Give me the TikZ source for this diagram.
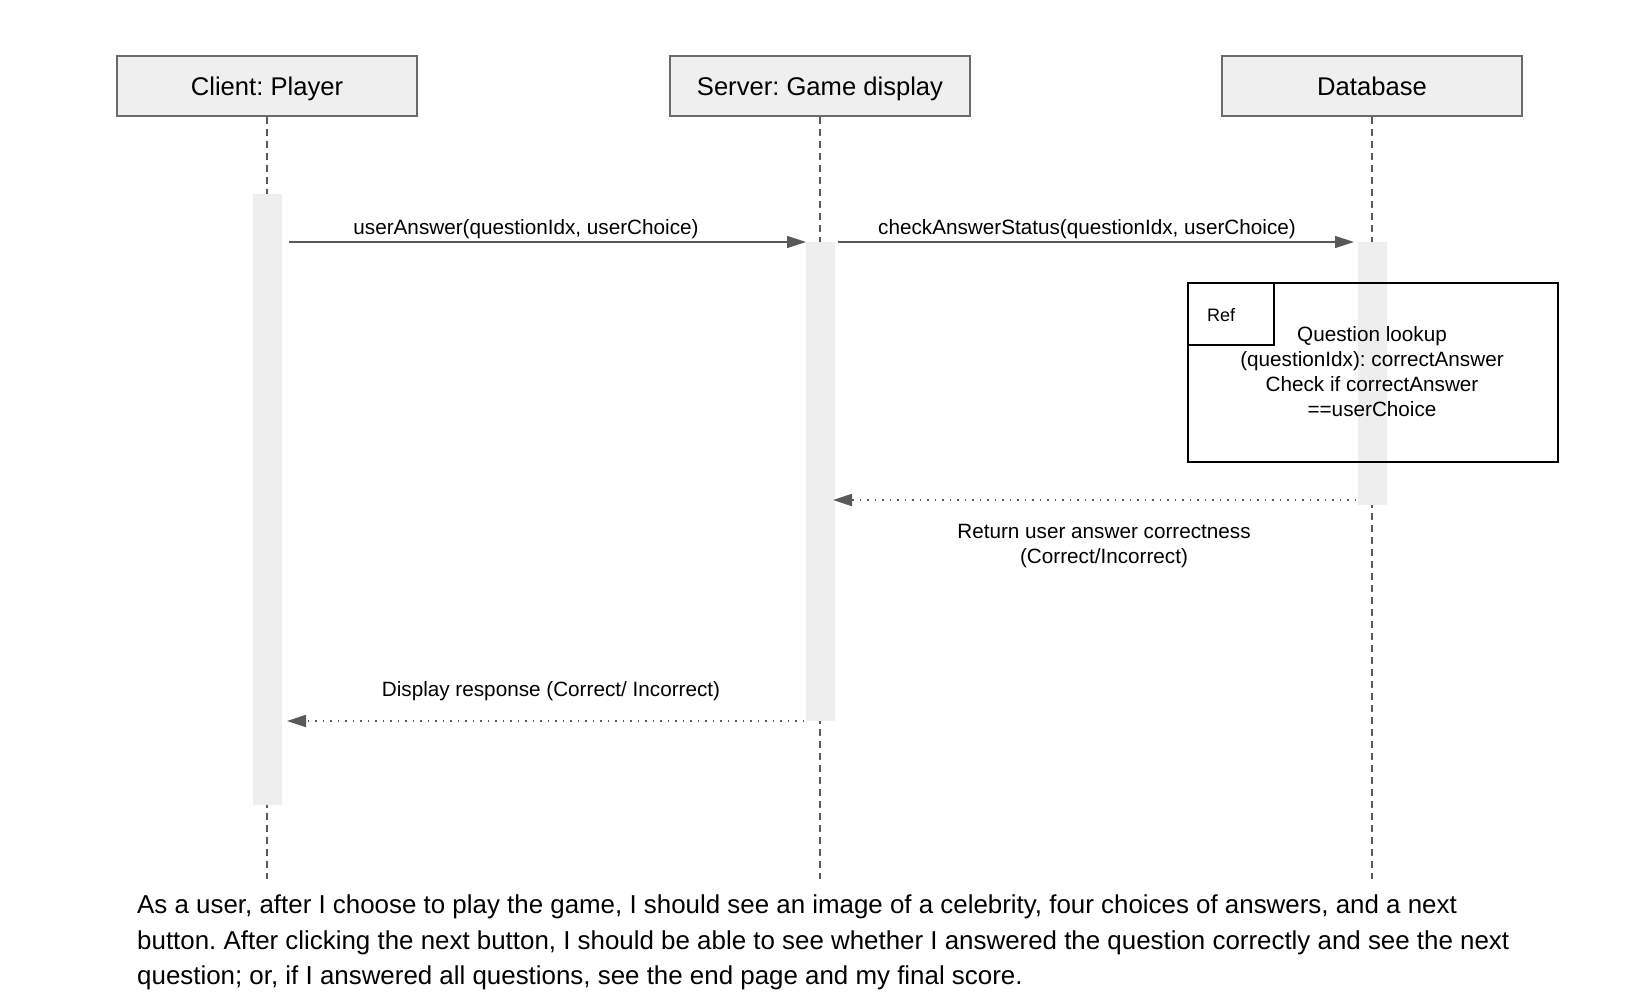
\documentclass[tikz,border=0pt]{standalone}
\usepackage{fontspec}
\setmainfont{Liberation Sans}
\usetikzlibrary{arrows.meta, calc}
\definecolor{lineg}{HTML}{595959}
\definecolor{boxg}{HTML}{EFEFEF}
\definecolor{barg}{HTML}{EEEEEE}
\frenchspacing

\begin{document}
\begin{tikzpicture}[x=1pt, y=-1pt,
	actor/.style={draw=lineg!90, line width=1.5pt, fill=boxg, minimum width=300pt, minimum height=60pt, inner sep=0pt, text height=18.3pt, text depth=0pt, font=\fontsize{25.6}{30}\selectfont},
	bar/.style={fill=barg, minimum width=29pt, inner sep=0pt},
	life/.style={draw=lineg, line width=1.5pt, dash pattern=on 7pt off 5pt},
	msg/.style={draw=lineg, line width=1.5pt, -{Triangle[length=19pt,width=12pt]}},
	ret/.style={draw=lineg, line width=1.8pt, dash pattern=on 1.5pt off 6pt, -{Triangle[length=19pt,width=12pt]}},
	lbl/.style={font=\fontsize{20.7}{25}\selectfont, inner sep=0pt, align=center}]
	\useasboundingbox (0,0) rectangle (1634,996);
	\node[actor] (cl) at (267,86) {Client: Player};
	\node[actor] (sv) at (820,86) {Server: Game display};
	\node[actor] (db) at (1372,86) {Database};
	\coordinate (clEnd) at (267,879);
	\coordinate (svEnd) at (820,879);
	\coordinate (dbEnd) at (1372,879);
%
	\draw[life] (cl.south) -- (clEnd);
	\draw[life] (sv.south) -- (svEnd);
	\draw[life] (db.south) -- (dbEnd);
	\node[bar, minimum height=611pt] (barC) at (267,499.5) {};
	\node[bar, minimum height=479pt] (barS) at (820,481.5) {};
	\node[bar, minimum height=263pt] (barD) at (1372,373.5) {};
%
	\coordinate (m1a) at (289,242);
	\coordinate (m1b) at (806,242);
	\coordinate (m2a) at (838,242);
	\coordinate (m2b) at (1354,242);
	\coordinate (r1a) at (1356,500);
	\coordinate (r1b) at (833,500);
	\coordinate (r2a) at (804,721);
	\coordinate (r2b) at (287,721);
	\draw[msg] (m1a) -- (m1b);
	\draw[msg] (m2a) -- (m2b);
	\draw[ret] (r1a) -- (r1b);
	\draw[ret] (r2a) -- (r2b);
	\node[lbl, anchor=base] (m1lbl) at (526,234) {userAnswer(questionIdx, userChoice)};
	\node[lbl, anchor=base] (m2lbl) at (1087,234) {checkAnswerStatus(questionIdx, userChoice)};
	\node[lbl] (r1lbl) at (1104,546) {Return user answer correctness\\(Correct/Incorrect)};
	\node[lbl, anchor=base] (r2lbl) at (551,696) {Display response (Correct/ Incorrect)};
%
	\node[draw=black, line width=1.8pt, minimum width=370pt, minimum height=179pt, anchor=north west] (refbox) at (1187,282) {};
	\node[draw=black, line width=1.8pt, minimum width=86pt, minimum height=62pt, anchor=north west] (reftag) at (refbox.north west) {};
	\node[font=\fontsize{18}{22}\selectfont, inner sep=0pt, anchor=base west] (reflbl) at (1207,321) {Ref};
	\node[lbl] (reftxt) at (1372,372) {Question lookup\\(questionIdx): correctAnswer\\Check if correctAnswer\\==userChoice};
%
	\node[font=\fontsize{25.9}{35.5}\selectfont, inner sep=0pt, align=left, anchor=north west] (story) at (137,895) {As a user, after I choose to play the game, I should see an image of a celebrity, four choices of answers, and a next\\button. After clicking the next button, I should be able to see whether I answered the question correctly and see the next\\question; or, if I answered all questions, see the end page and my final score.};
\end{tikzpicture}
\end{document}
